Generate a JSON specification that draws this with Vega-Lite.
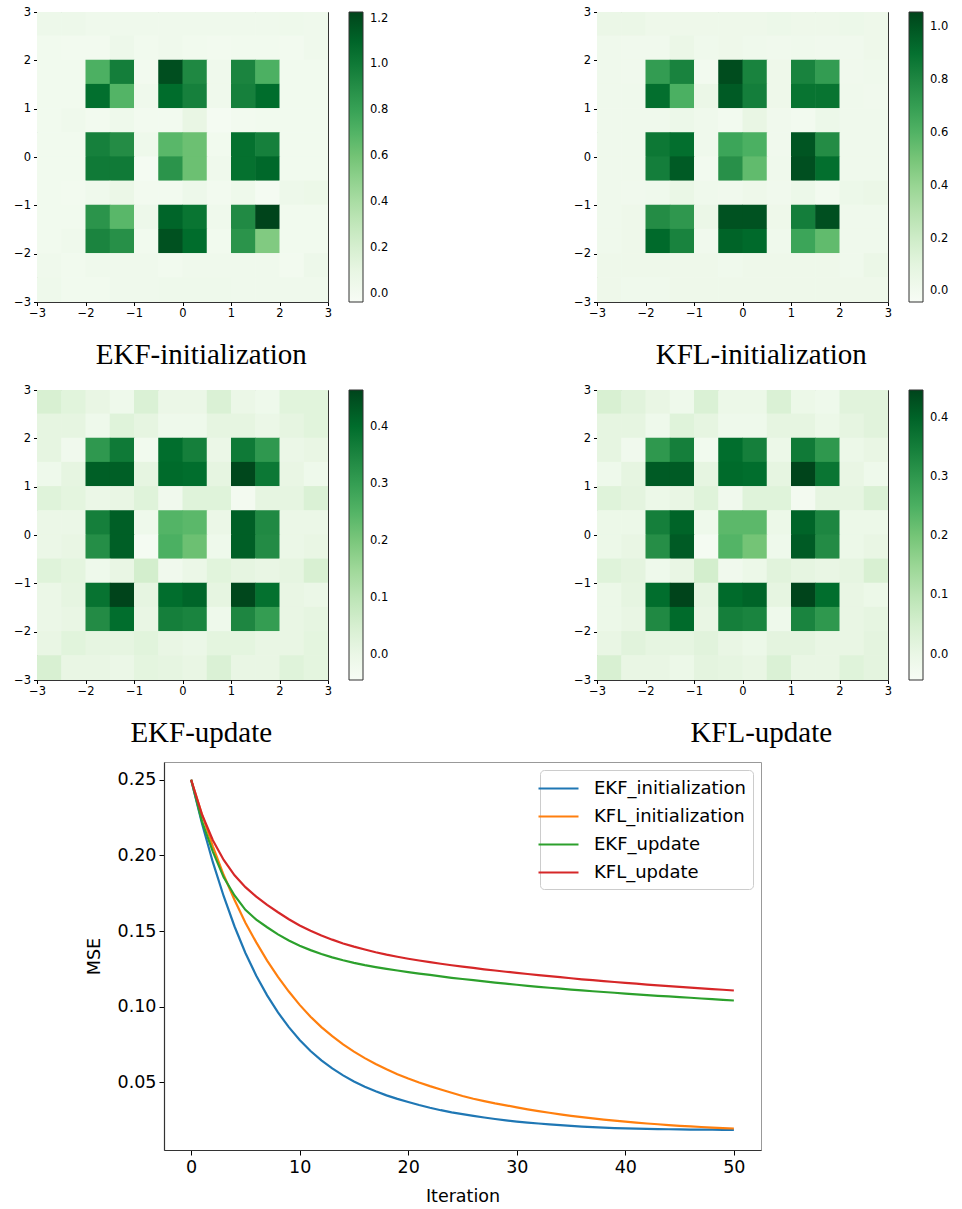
{
  "$schema": "https://vega.github.io/schema/vega-lite/v6.json",
  "background": "white",
  "padding": {"left": 13, "top": 5, "right": 4, "bottom": 4},
  "config": {
    "font": "DejaVu Sans",
    "view": {"stroke": "#333", "strokeWidth": 1},
    "axis": {"grid": false, "domain": false, "tickColor": "#000", "labelColor": "#000", "titleColor": "#000", "labelFont": "DejaVu Sans", "titleFont": "DejaVu Sans", "titleFontWeight": "normal"},
    "legend": {"labelFont": "DejaVu Sans", "labelColor": "#000"}
  },
  "datasets": {
    "cells": [
      {"x":-3,"x2":-2.5,"y":2.5,"y2":3,"a":0.05,"b":0.05,"c":0.048,"d":0.045},{"x":-2.5,"x2":-2,"y":2.5,"y2":3,"a":0.05,"b":0.05,"c":0.028,"d":0.026},{"x":-2,"x2":-1.5,"y":2.5,"y2":3,"a":0.03,"b":0.03,"c":0.008,"d":0.006},{"x":-1.5,"x2":-1,"y":2.5,"y2":3,"a":0.03,"b":0.03,"c":-0.013,"d":-0.014},{"x":-1,"x2":-0.5,"y":2.5,"y2":3,"a":0.03,"b":0.03,"c":0.043,"d":0.04},{"x":-0.5,"x2":0,"y":2.5,"y2":3,"a":0.03,"b":0.03,"c":-0.002,"d":-0.004},{"x":0,"x2":0.5,"y":2.5,"y2":3,"a":0.03,"b":0.03,"c":-0.002,"d":-0.004},{"x":0.5,"x2":1,"y":2.5,"y2":3,"a":0.03,"b":0.04,"c":0.043,"d":0.04},{"x":1,"x2":1.5,"y":2.5,"y2":3,"a":0.03,"b":0.03,"c":-0.002,"d":-0.004},{"x":1.5,"x2":2,"y":2.5,"y2":3,"a":0.03,"b":0.03,"c":-0.013,"d":-0.014},{"x":2,"x2":2.5,"y":2.5,"y2":3,"a":0.04,"b":0.04,"c":0.028,"d":0.026},{"x":2.5,"x2":3,"y":2.5,"y2":3,"a":0.03,"b":0.03,"c":0.028,"d":0.026},
      {"x":-3,"x2":-2.5,"y":2,"y2":2.5,"a":0.02,"b":0.02,"c":0.018,"d":0.016},{"x":-2.5,"x2":-2,"y":2,"y2":2.5,"a":0.01,"b":0.01,"c":0.018,"d":0.016},{"x":-2,"x2":-1.5,"y":2,"y2":2.5,"a":0.01,"b":0.01,"c":-0.013,"d":-0.014},{"x":-1.5,"x2":-1,"y":2,"y2":2.5,"a":0.05,"b":0.05,"c":0.033,"d":0.03},{"x":-1,"x2":-0.5,"y":2,"y2":2.5,"a":0.02,"b":0.02,"c":0.018,"d":0.016},{"x":-0.5,"x2":0,"y":2,"y2":2.5,"a":0.03,"b":0.03,"c":-0.013,"d":-0.014},{"x":0,"x2":0.5,"y":2,"y2":2.5,"a":0.02,"b":0.02,"c":-0.013,"d":-0.014},{"x":0.5,"x2":1,"y":2,"y2":2.5,"a":0.01,"b":0.01,"c":0.018,"d":0.016},{"x":1,"x2":1.5,"y":2,"y2":2.5,"a":0.02,"b":0.02,"c":0.018,"d":0.016},{"x":1.5,"x2":2,"y":2,"y2":2.5,"a":0.02,"b":0.01,"c":-0.002,"d":-0.004},{"x":2,"x2":2.5,"y":2,"y2":2.5,"a":0.01,"b":0.01,"c":0.018,"d":0.016},{"x":2.5,"x2":3,"y":2,"y2":2.5,"a":0.03,"b":0.03,"c":0.028,"d":0.026},
      {"x":-3,"x2":-2.5,"y":1.5,"y2":2,"a":0.02,"b":0.02,"c":0.018,"d":0.016},{"x":-2.5,"x2":-2,"y":1.5,"y2":2,"a":0.02,"b":0.01,"c":-0.018,"d":-0.019},{"x":-2,"x2":-1.5,"y":1.5,"y2":2,"a":0.72,"b":0.71,"c":0.312,"d":0.3},{"x":-1.5,"x2":-1,"y":1.5,"y2":2,"a":0.98,"b":0.82,"c":0.373,"d":0.349},{"x":-1,"x2":-0.5,"y":1.5,"y2":2,"a":0.01,"b":0.0,"c":-0.023,"d":-0.024},{"x":-0.5,"x2":0,"y":1.5,"y2":2,"a":1.19,"b":1.03,"c":0.398,"d":0.383},{"x":0,"x2":0.5,"y":1.5,"y2":2,"a":0.93,"b":0.82,"c":0.363,"d":0.349},{"x":0.5,"x2":1,"y":1.5,"y2":2,"a":0.03,"b":0.03,"c":-0.002,"d":-0.004},{"x":1,"x2":1.5,"y":1.5,"y2":2,"a":0.95,"b":0.82,"c":0.373,"d":0.358},{"x":1.5,"x2":2,"y":1.5,"y2":2,"a":0.72,"b":0.71,"c":0.312,"d":0.3},{"x":2,"x2":2.5,"y":1.5,"y2":2,"a":0.02,"b":0.01,"c":-0.002,"d":-0.004},{"x":2.5,"x2":3,"y":1.5,"y2":2,"a":0.02,"b":0.02,"c":0.008,"d":0.006},
      {"x":-3,"x2":-2.5,"y":1,"y2":1.5,"a":0.02,"b":0.02,"c":-0.013,"d":-0.014},{"x":-2.5,"x2":-2,"y":1,"y2":1.5,"a":0.02,"b":0.02,"c":0.018,"d":0.016},{"x":-2,"x2":-1.5,"y":1,"y2":1.5,"a":1.06,"b":0.91,"c":0.423,"d":0.412},{"x":-1.5,"x2":-1,"y":1,"y2":1.5,"a":0.7,"b":0.62,"c":0.423,"d":0.412},{"x":-1,"x2":-0.5,"y":1,"y2":1.5,"a":0.03,"b":0.05,"c":0.018,"d":0.016},{"x":-0.5,"x2":0,"y":1,"y2":1.5,"a":1.07,"b":0.98,"c":0.403,"d":0.388},{"x":0,"x2":0.5,"y":1,"y2":1.5,"a":0.97,"b":0.84,"c":0.398,"d":0.383},{"x":0.5,"x2":1,"y":1,"y2":1.5,"a":0.03,"b":0.03,"c":0.018,"d":0.016},{"x":1,"x2":1.5,"y":1,"y2":1.5,"a":0.97,"b":0.89,"c":0.459,"d":0.4465},{"x":1.5,"x2":2,"y":1,"y2":1.5,"a":1.07,"b":0.89,"c":0.378,"d":0.368},{"x":2,"x2":2.5,"y":1,"y2":1.5,"a":0.02,"b":0.02,"c":0.008,"d":0.006},{"x":2.5,"x2":3,"y":1,"y2":1.5,"a":0.02,"b":0.01,"c":-0.013,"d":-0.014},
      {"x":-3,"x2":-2.5,"y":0.5,"y2":1,"a":0.02,"b":0.02,"c":0.033,"d":0.03},{"x":-2.5,"x2":-2,"y":0.5,"y2":1,"a":0.03,"b":0.02,"c":0.023,"d":0.021},{"x":-2,"x2":-1.5,"y":0.5,"y2":1,"a":0.01,"b":0.02,"c":-0.002,"d":-0.004},{"x":-1.5,"x2":-1,"y":0.5,"y2":1,"a":0.04,"b":0.04,"c":0.008,"d":0.006},{"x":-1,"x2":-0.5,"y":0.5,"y2":1,"a":0.01,"b":0.02,"c":0.033,"d":0.03},{"x":-0.5,"x2":0,"y":0.5,"y2":1,"a":0.01,"b":0.0,"c":-0.018,"d":-0.019},{"x":0,"x2":0.5,"y":0.5,"y2":1,"a":0.09,"b":0.07,"c":0.033,"d":0.03},{"x":0.5,"x2":1,"y":0.5,"y2":1,"a":-0.01,"b":0.01,"c":0.033,"d":0.03},{"x":1,"x2":1.5,"y":0.5,"y2":1,"a":0.01,"b":0.0,"c":-0.028,"d":-0.028},{"x":1.5,"x2":2,"y":0.5,"y2":1,"a":0.02,"b":0.04,"c":0.018,"d":0.016},{"x":2,"x2":2.5,"y":0.5,"y2":1,"a":0.02,"b":0.02,"c":0.018,"d":0.016},{"x":2.5,"x2":3,"y":0.5,"y2":1,"a":0.02,"b":0.02,"c":0.043,"d":0.04},
      {"x":-3,"x2":-2.5,"y":0,"y2":0.5,"a":0.02,"b":0.02,"c":-0.002,"d":-0.004},{"x":-2.5,"x2":-2,"y":0,"y2":0.5,"a":0.02,"b":0.02,"c":-0.002,"d":-0.004},{"x":-2,"x2":-1.5,"y":0,"y2":0.5,"a":0.97,"b":0.87,"c":0.363,"d":0.349},{"x":-1.5,"x2":-1,"y":0,"y2":0.5,"a":0.91,"b":0.91,"c":0.423,"d":0.398},{"x":-1,"x2":-0.5,"y":0,"y2":0.5,"a":0.04,"b":0.02,"c":-0.013,"d":-0.014},{"x":-0.5,"x2":0,"y":0,"y2":0.5,"a":0.68,"b":0.67,"c":0.251,"d":0.231},{"x":0,"x2":0.5,"y":0,"y2":0.5,"a":0.62,"b":0.62,"c":0.241,"d":0.231},{"x":0.5,"x2":1,"y":0,"y2":0.5,"a":0.02,"b":0.01,"c":-0.002,"d":-0.004},{"x":1,"x2":1.5,"y":0,"y2":0.5,"a":1.05,"b":1.0,"c":0.423,"d":0.398},{"x":1.5,"x2":2,"y":0,"y2":0.5,"a":0.97,"b":0.78,"c":0.342,"d":0.334},{"x":2,"x2":2.5,"y":0,"y2":0.5,"a":0.02,"b":0.02,"c":-0.002,"d":-0.004},{"x":2.5,"x2":3,"y":0,"y2":0.5,"a":0.02,"b":0.02,"c":-0.002,"d":-0.004},
      {"x":-3,"x2":-2.5,"y":-0.5,"y2":0,"a":0.02,"b":0.02,"c":-0.002,"d":-0.004},{"x":-2.5,"x2":-2,"y":-0.5,"y2":0,"a":0.02,"b":0.02,"c":0.008,"d":0.006},{"x":-2,"x2":-1.5,"y":-0.5,"y2":0,"a":1.0,"b":0.84,"c":0.332,"d":0.319},{"x":-1.5,"x2":-1,"y":-0.5,"y2":0,"a":1.0,"b":0.98,"c":0.423,"d":0.412},{"x":-1,"x2":-0.5,"y":-0.5,"y2":0,"a":-0.01,"b":0.0,"c":-0.033,"d":-0.033},{"x":-0.5,"x2":0,"y":-0.5,"y2":0,"a":0.87,"b":0.76,"c":0.261,"d":0.241},{"x":0,"x2":0.5,"y":-0.5,"y2":0,"a":0.62,"b":0.56,"c":0.221,"d":0.202},{"x":0.5,"x2":1,"y":-0.5,"y2":0,"a":0.03,"b":0.02,"c":-0.013,"d":-0.014},{"x":1,"x2":1.5,"y":-0.5,"y2":0,"a":1.05,"b":1.02,"c":0.423,"d":0.412},{"x":1.5,"x2":2,"y":-0.5,"y2":0,"a":1.09,"b":0.91,"c":0.337,"d":0.324},{"x":2,"x2":2.5,"y":-0.5,"y2":0,"a":0.02,"b":0.02,"c":-0.002,"d":-0.004},{"x":2.5,"x2":3,"y":-0.5,"y2":0,"a":0.02,"b":0.02,"c":0.008,"d":0.006},
      {"x":-3,"x2":-2.5,"y":-1,"y2":-0.5,"a":0.02,"b":0.02,"c":0.033,"d":0.03},{"x":-2.5,"x2":-2,"y":-1,"y2":-0.5,"a":0.01,"b":0.01,"c":0.023,"d":0.021},{"x":-2,"x2":-1.5,"y":-1,"y2":-0.5,"a":0.03,"b":0.02,"c":-0.013,"d":-0.014},{"x":-1.5,"x2":-1,"y":-1,"y2":-0.5,"a":0.07,"b":0.06,"c":0.008,"d":0.006},{"x":-1,"x2":-0.5,"y":-1,"y2":-0.5,"a":0.01,"b":0.02,"c":0.058,"d":0.055},{"x":-0.5,"x2":0,"y":-1,"y2":-0.5,"a":0.01,"b":0.01,"c":-0.018,"d":-0.019},{"x":0,"x2":0.5,"y":-1,"y2":-0.5,"a":0.05,"b":0.03,"c":-0.002,"d":-0.004},{"x":0.5,"x2":1,"y":-1,"y2":-0.5,"a":0.01,"b":0.01,"c":0.028,"d":0.026},{"x":1,"x2":1.5,"y":-1,"y2":-0.5,"a":0.04,"b":0.04,"c":0.018,"d":0.016},{"x":1.5,"x2":2,"y":-1,"y2":-0.5,"a":-0.01,"b":0.0,"c":0.008,"d":0.006},{"x":2,"x2":2.5,"y":-1,"y2":-0.5,"a":0.05,"b":0.04,"c":0.018,"d":0.016},{"x":2.5,"x2":3,"y":-1,"y2":-0.5,"a":0.06,"b":0.05,"c":0.048,"d":0.045},
      {"x":-3,"x2":-2.5,"y":-1.5,"y2":-1,"a":0.02,"b":0.02,"c":-0.002,"d":-0.004},{"x":-2.5,"x2":-2,"y":-1.5,"y2":-1,"a":0.02,"b":0.03,"c":0.018,"d":0.016},{"x":-2,"x2":-1.5,"y":-1.5,"y2":-1,"a":0.87,"b":0.78,"c":0.388,"d":0.383},{"x":-1.5,"x2":-1,"y":-1.5,"y2":-1,"a":0.68,"b":0.73,"c":0.464,"d":0.4465},{"x":-1,"x2":-0.5,"y":-1.5,"y2":-1,"a":0.05,"b":0.05,"c":0.018,"d":0.016},{"x":-0.5,"x2":0,"y":-1.5,"y2":-1,"a":1.1,"b":1.01,"c":0.398,"d":0.388},{"x":0,"x2":0.5,"y":-1.5,"y2":-1,"a":1.03,"b":1.01,"c":0.413,"d":0.398},{"x":0.5,"x2":1,"y":-1.5,"y2":-1,"a":0.03,"b":0.03,"c":0.018,"d":0.016},{"x":1,"x2":1.5,"y":-1.5,"y2":-1,"a":0.92,"b":0.84,"c":0.459,"d":0.4465},{"x":1.5,"x2":2,"y":-1.5,"y2":-1,"a":1.23,"b":1.02,"c":0.393,"d":0.383},{"x":2,"x2":2.5,"y":-1.5,"y2":-1,"a":0.02,"b":0.02,"c":0.008,"d":0.006},{"x":2.5,"x2":3,"y":-1.5,"y2":-1,"a":0.02,"b":0.02,"c":-0.002,"d":-0.004},
      {"x":-3,"x2":-2.5,"y":-2,"y2":-1.5,"a":0.02,"b":0.02,"c":-0.002,"d":-0.004},{"x":-2.5,"x2":-2,"y":-2,"y2":-1.5,"a":0.03,"b":0.03,"c":0.008,"d":0.006},{"x":-2,"x2":-1.5,"y":-2,"y2":-1.5,"a":0.95,"b":0.93,"c":0.337,"d":0.329},{"x":-1.5,"x2":-1,"y":-2,"y2":-1.5,"a":0.89,"b":0.82,"c":0.398,"d":0.388},{"x":-1,"x2":-0.5,"y":-2,"y2":-1.5,"a":0.02,"b":0.01,"c":0.008,"d":0.006},{"x":-0.5,"x2":0,"y":-2,"y2":-1.5,"a":1.18,"b":0.95,"c":0.363,"d":0.349},{"x":0,"x2":0.5,"y":-2,"y2":-1.5,"a":1.07,"b":0.93,"c":0.353,"d":0.339},{"x":0.5,"x2":1,"y":-2,"y2":-1.5,"a":0.02,"b":0.02,"c":-0.013,"d":-0.014},{"x":1,"x2":1.5,"y":-2,"y2":-1.5,"a":0.87,"b":0.67,"c":0.347,"d":0.339},{"x":1.5,"x2":2,"y":-2,"y2":-1.5,"a":0.55,"b":0.56,"c":0.302,"d":0.3},{"x":2,"x2":2.5,"y":-2,"y2":-1.5,"a":0.02,"b":0.02,"c":0.008,"d":0.006},{"x":2.5,"x2":3,"y":-2,"y2":-1.5,"a":0.02,"b":0.02,"c":0.018,"d":0.016},
      {"x":-3,"x2":-2.5,"y":-2.5,"y2":-2,"a":0.03,"b":0.03,"c":0.008,"d":0.006},{"x":-2.5,"x2":-2,"y":-2.5,"y2":-2,"a":0.02,"b":0.03,"c":0.028,"d":0.026},{"x":-2,"x2":-1.5,"y":-2.5,"y2":-2,"a":0.03,"b":0.03,"c":0.018,"d":0.016},{"x":-1.5,"x2":-1,"y":-2.5,"y2":-2,"a":0.03,"b":0.03,"c":0.018,"d":0.016},{"x":-1,"x2":-0.5,"y":-2.5,"y2":-2,"a":0.03,"b":0.03,"c":0.028,"d":0.026},{"x":-0.5,"x2":0,"y":-2.5,"y2":-2,"a":0.02,"b":0.02,"c":0.008,"d":0.006},{"x":0,"x2":0.5,"y":-2.5,"y2":-2,"a":0.03,"b":0.03,"c":-0.002,"d":-0.004},{"x":0.5,"x2":1,"y":-2.5,"y2":-2,"a":0.03,"b":0.03,"c":0.023,"d":0.021},{"x":1,"x2":1.5,"y":-2.5,"y2":-2,"a":0.03,"b":0.03,"c":0.023,"d":0.021},{"x":1.5,"x2":2,"y":-2.5,"y2":-2,"a":0.03,"b":0.03,"c":0.008,"d":0.006},{"x":2,"x2":2.5,"y":-2.5,"y2":-2,"a":0.01,"b":0.02,"c":0.008,"d":0.006},{"x":2.5,"x2":3,"y":-2.5,"y2":-2,"a":0.05,"b":0.05,"c":0.023,"d":0.021},
      {"x":-3,"x2":-2.5,"y":-3,"y2":-2.5,"a":0.04,"b":0.03,"c":0.048,"d":0.045},{"x":-2.5,"x2":-2,"y":-3,"y2":-2.5,"a":0.02,"b":0.02,"c":0.008,"d":0.006},{"x":-2,"x2":-1.5,"y":-3,"y2":-2.5,"a":0.02,"b":0.02,"c":0.008,"d":0.006},{"x":-1.5,"x2":-1,"y":-3,"y2":-2.5,"a":0.03,"b":0.03,"c":-0.002,"d":-0.004},{"x":-1,"x2":-0.5,"y":-3,"y2":-2.5,"a":0.03,"b":0.03,"c":0.023,"d":0.021},{"x":-0.5,"x2":0,"y":-3,"y2":-2.5,"a":0.04,"b":0.03,"c":0.018,"d":0.016},{"x":0,"x2":0.5,"y":-3,"y2":-2.5,"a":0.04,"b":0.03,"c":0.008,"d":0.006},{"x":0.5,"x2":1,"y":-3,"y2":-2.5,"a":0.04,"b":0.03,"c":0.043,"d":0.04},{"x":1,"x2":1.5,"y":-3,"y2":-2.5,"a":0.03,"b":0.03,"c":0.008,"d":0.006},{"x":1.5,"x2":2,"y":-3,"y2":-2.5,"a":0.03,"b":0.03,"c":0.008,"d":0.006},{"x":2,"x2":2.5,"y":-3,"y2":-2.5,"a":0.03,"b":0.03,"c":0.033,"d":0.03},{"x":2.5,"x2":3,"y":-3,"y2":-2.5,"a":0.03,"b":0.03,"c":0.023,"d":0.021}
    ],
    "mse": [
      {"iter":0,"EKF_initialization":0.25,"KFL_initialization":0.25,"EKF_update":0.25,"KFL_update":0.25},
      {"iter":1,"EKF_initialization":0.221,"KFL_initialization":0.227,"EKF_update":0.2225,"KFL_update":0.227},
      {"iter":2,"EKF_initialization":0.1955,"KFL_initialization":0.206,"EKF_update":0.2025,"KFL_update":0.21},
      {"iter":3,"EKF_initialization":0.173,"KFL_initialization":0.187,"EKF_update":0.1855,"KFL_update":0.197},
      {"iter":4,"EKF_initialization":0.153,"KFL_initialization":0.1705,"EKF_update":0.1735,"KFL_update":0.1868},
      {"iter":5,"EKF_initialization":0.1355,"KFL_initialization":0.1555,"EKF_update":0.164,"KFL_update":0.179},
      {"iter":6,"EKF_initialization":0.1205,"KFL_initialization":0.1425,"EKF_update":0.1575,"KFL_update":0.1727},
      {"iter":7,"EKF_initialization":0.1075,"KFL_initialization":0.1305,"EKF_update":0.1525,"KFL_update":0.1673},
      {"iter":8,"EKF_initialization":0.0962,"KFL_initialization":0.1197,"EKF_update":0.1478,"KFL_update":0.1624},
      {"iter":9,"EKF_initialization":0.0865,"KFL_initialization":0.11,"EKF_update":0.1437,"KFL_update":0.1578},
      {"iter":10,"EKF_initialization":0.078,"KFL_initialization":0.1012,"EKF_update":0.1403,"KFL_update":0.1537},
      {"iter":11,"EKF_initialization":0.0707,"KFL_initialization":0.0934,"EKF_update":0.1374,"KFL_update":0.1502},
      {"iter":12,"EKF_initialization":0.0645,"KFL_initialization":0.0865,"EKF_update":0.1348,"KFL_update":0.147},
      {"iter":13,"EKF_initialization":0.0592,"KFL_initialization":0.0805,"EKF_update":0.1326,"KFL_update":0.1443},
      {"iter":14,"EKF_initialization":0.0546,"KFL_initialization":0.0751,"EKF_update":0.1307,"KFL_update":0.1418},
      {"iter":15,"EKF_initialization":0.0506,"KFL_initialization":0.0703,"EKF_update":0.129,"KFL_update":0.1397},
      {"iter":16,"EKF_initialization":0.0471,"KFL_initialization":0.066,"EKF_update":0.1275,"KFL_update":0.1378},
      {"iter":17,"EKF_initialization":0.0441,"KFL_initialization":0.0621,"EKF_update":0.1262,"KFL_update":0.136},
      {"iter":18,"EKF_initialization":0.0414,"KFL_initialization":0.0586,"EKF_update":0.125,"KFL_update":0.1344},
      {"iter":19,"EKF_initialization":0.0391,"KFL_initialization":0.0554,"EKF_update":0.1239,"KFL_update":0.133},
      {"iter":20,"EKF_initialization":0.037,"KFL_initialization":0.0525,"EKF_update":0.1229,"KFL_update":0.1317},
      {"iter":21,"EKF_initialization":0.035,"KFL_initialization":0.0499,"EKF_update":0.1219,"KFL_update":0.1305},
      {"iter":22,"EKF_initialization":0.0332,"KFL_initialization":0.0475,"EKF_update":0.121,"KFL_update":0.1294},
      {"iter":23,"EKF_initialization":0.0316,"KFL_initialization":0.0453,"EKF_update":0.12,"KFL_update":0.1284},
      {"iter":24,"EKF_initialization":0.0302,"KFL_initialization":0.0431,"EKF_update":0.1191,"KFL_update":0.1274},
      {"iter":25,"EKF_initialization":0.029,"KFL_initialization":0.041,"EKF_update":0.1183,"KFL_update":0.1265},
      {"iter":26,"EKF_initialization":0.0279,"KFL_initialization":0.0392,"EKF_update":0.1175,"KFL_update":0.1256},
      {"iter":27,"EKF_initialization":0.0268,"KFL_initialization":0.0376,"EKF_update":0.1167,"KFL_update":0.1247},
      {"iter":28,"EKF_initialization":0.0258,"KFL_initialization":0.0361,"EKF_update":0.1159,"KFL_update":0.1239},
      {"iter":29,"EKF_initialization":0.0249,"KFL_initialization":0.0348,"EKF_update":0.1152,"KFL_update":0.1231},
      {"iter":30,"EKF_initialization":0.0241,"KFL_initialization":0.0335,"EKF_update":0.1145,"KFL_update":0.1224},
      {"iter":31,"EKF_initialization":0.0234,"KFL_initialization":0.0322,"EKF_update":0.1138,"KFL_update":0.1216},
      {"iter":32,"EKF_initialization":0.0228,"KFL_initialization":0.031,"EKF_update":0.1131,"KFL_update":0.1209},
      {"iter":33,"EKF_initialization":0.0222,"KFL_initialization":0.0299,"EKF_update":0.1125,"KFL_update":0.1202},
      {"iter":34,"EKF_initialization":0.0217,"KFL_initialization":0.0289,"EKF_update":0.1119,"KFL_update":0.1195},
      {"iter":35,"EKF_initialization":0.0212,"KFL_initialization":0.0279,"EKF_update":0.1113,"KFL_update":0.1188},
      {"iter":36,"EKF_initialization":0.0208,"KFL_initialization":0.027,"EKF_update":0.1108,"KFL_update":0.1181},
      {"iter":37,"EKF_initialization":0.0204,"KFL_initialization":0.0262,"EKF_update":0.1102,"KFL_update":0.1175},
      {"iter":38,"EKF_initialization":0.0201,"KFL_initialization":0.0254,"EKF_update":0.1097,"KFL_update":0.1169},
      {"iter":39,"EKF_initialization":0.0198,"KFL_initialization":0.0247,"EKF_update":0.1092,"KFL_update":0.1163},
      {"iter":40,"EKF_initialization":0.0196,"KFL_initialization":0.024,"EKF_update":0.1087,"KFL_update":0.1157},
      {"iter":41,"EKF_initialization":0.0194,"KFL_initialization":0.0234,"EKF_update":0.1082,"KFL_update":0.1152},
      {"iter":42,"EKF_initialization":0.0192,"KFL_initialization":0.0228,"EKF_update":0.1077,"KFL_update":0.1146},
      {"iter":43,"EKF_initialization":0.0191,"KFL_initialization":0.0223,"EKF_update":0.1072,"KFL_update":0.1141},
      {"iter":44,"EKF_initialization":0.019,"KFL_initialization":0.0218,"EKF_update":0.1068,"KFL_update":0.1136},
      {"iter":45,"EKF_initialization":0.0189,"KFL_initialization":0.0213,"EKF_update":0.1063,"KFL_update":0.1131},
      {"iter":46,"EKF_initialization":0.0188,"KFL_initialization":0.0209,"EKF_update":0.1059,"KFL_update":0.1126},
      {"iter":47,"EKF_initialization":0.0187,"KFL_initialization":0.0205,"EKF_update":0.1054,"KFL_update":0.1121},
      {"iter":48,"EKF_initialization":0.0187,"KFL_initialization":0.0201,"EKF_update":0.105,"KFL_update":0.1116},
      {"iter":49,"EKF_initialization":0.0186,"KFL_initialization":0.0198,"EKF_update":0.1045,"KFL_update":0.1112},
      {"iter":50,"EKF_initialization":0.0186,"KFL_initialization":0.0195,"EKF_update":0.1041,"KFL_update":0.1107}
    ]
  },
  "resolve": {"scale": {"color": "independent"}, "legend": {"color": "independent"}},
  "spacing": 12,
  "vconcat": [
    {
      "spacing": 183,
      "resolve": {"scale": {"color": "independent"}, "legend": {"color": "independent"}},
      "hconcat": [
        {
          "data": {"name": "cells"},
          "width": 291, "height": 290,
          "title": {"text": "EKF-initialization", "orient": "bottom", "frame": "bounds", "anchor": "middle", "font": "Liberation Serif", "fontSize": 29, "fontWeight": "normal", "color": "#000", "offset": 22},
          "mark": {"type": "rect", "x2Offset": 0.6, "y2Offset": -0.6, "clip": true},
          "encoding": {
            "x": {"field": "x", "type": "quantitative", "scale": {"domain": [-3, 3], "nice": false, "zero": false}, "axis": {"title": null, "values": [-3, -2, -1, 0, 1, 2, 3], "format": "d", "labelFontSize": 11.5, "tickSize": 3.5, "labelPadding": 2, "labelFlush": false}},
            "x2": {"field": "x2"},
            "y": {"field": "y", "type": "quantitative", "scale": {"domain": [-3, 3], "nice": false, "zero": false}, "axis": {"title": null, "values": [-3, -2, -1, 0, 1, 2, 3], "format": "d", "labelFontSize": 11.5, "tickSize": 3.5, "labelPadding": 3, "labelFlush": false}},
            "y2": {"field": "y2"},
            "color": {"field": "a", "type": "quantitative", "scale": {"domain": [-0.036, 0.122125, 0.28025, 0.438375, 0.5965, 0.754625, 0.91275, 1.070875, 1.229], "range": ["#f7fcf5", "#e5f5e0", "#c7e9c0", "#a1d99b", "#74c476", "#41ab5d", "#238b45", "#006d2c", "#00441b"], "interpolate": "rgb", "nice": false, "zero": false}, "legend": {"type": "gradient", "title": null, "orient": "right", "offset": 21, "padding": 0, "direction": "vertical", "gradientLength": 290, "gradientThickness": 14, "gradientStrokeColor": "#333", "gradientStrokeWidth": 1, "values": [0, 0.2, 0.4, 0.6, 0.8, 1.0, 1.2], "format": ".1f", "labelFontSize": 11.5, "labelOffset": 7, "labelOverlap": false}}
          }
        },
        {
          "data": {"name": "cells"},
          "width": 291, "height": 290,
          "title": {"text": "KFL-initialization", "orient": "bottom", "frame": "bounds", "anchor": "middle", "font": "Liberation Serif", "fontSize": 29, "fontWeight": "normal", "color": "#000", "offset": 22},
          "mark": {"type": "rect", "x2Offset": 0.6, "y2Offset": -0.6, "clip": true},
          "encoding": {
            "x": {"field": "x", "type": "quantitative", "scale": {"domain": [-3, 3], "nice": false, "zero": false}, "axis": {"title": null, "values": [-3, -2, -1, 0, 1, 2, 3], "format": "d", "labelFontSize": 11.5, "tickSize": 3.5, "labelPadding": 2, "labelFlush": false}},
            "x2": {"field": "x2"},
            "y": {"field": "y", "type": "quantitative", "scale": {"domain": [-3, 3], "nice": false, "zero": false}, "axis": {"title": null, "values": [-3, -2, -1, 0, 1, 2, 3], "format": "d", "labelFontSize": 11.5, "tickSize": 3.5, "labelPadding": 3, "labelFlush": false}},
            "y2": {"field": "y2"},
            "color": {"field": "b", "type": "quantitative", "scale": {"domain": [-0.04, 0.097125, 0.23425, 0.371375, 0.5085, 0.645625, 0.78275, 0.919875, 1.057], "range": ["#f7fcf5", "#e5f5e0", "#c7e9c0", "#a1d99b", "#74c476", "#41ab5d", "#238b45", "#006d2c", "#00441b"], "interpolate": "rgb", "nice": false, "zero": false}, "legend": {"type": "gradient", "title": null, "orient": "right", "offset": 21, "padding": 0, "direction": "vertical", "gradientLength": 290, "gradientThickness": 14, "gradientStrokeColor": "#333", "gradientStrokeWidth": 1, "values": [0, 0.2, 0.4, 0.6, 0.8, 1.0], "format": ".1f", "labelFontSize": 11.5, "labelOffset": 7, "labelOverlap": false}}
          }
        }
      ]
    },
    {
      "spacing": 183,
      "resolve": {"scale": {"color": "independent"}, "legend": {"color": "independent"}},
      "hconcat": [
        {
          "data": {"name": "cells"},
          "width": 291, "height": 290,
          "title": {"text": "EKF-update", "orient": "bottom", "frame": "bounds", "anchor": "middle", "font": "Liberation Serif", "fontSize": 29, "fontWeight": "normal", "color": "#000", "offset": 22},
          "mark": {"type": "rect", "x2Offset": 0.6, "y2Offset": -0.6, "clip": true},
          "encoding": {
            "x": {"field": "x", "type": "quantitative", "scale": {"domain": [-3, 3], "nice": false, "zero": false}, "axis": {"title": null, "values": [-3, -2, -1, 0, 1, 2, 3], "format": "d", "labelFontSize": 11.5, "tickSize": 3.5, "labelPadding": 2, "labelFlush": false}},
            "x2": {"field": "x2"},
            "y": {"field": "y", "type": "quantitative", "scale": {"domain": [-3, 3], "nice": false, "zero": false}, "axis": {"title": null, "values": [-3, -2, -1, 0, 1, 2, 3], "format": "d", "labelFontSize": 11.5, "tickSize": 3.5, "labelPadding": 3, "labelFlush": false}},
            "y2": {"field": "y2"},
            "color": {"field": "c", "type": "quantitative", "scale": {"domain": [-0.043, 0.020375, 0.08375, 0.147125, 0.2105, 0.273875, 0.33725, 0.400625, 0.464], "range": ["#f7fcf5", "#e5f5e0", "#c7e9c0", "#a1d99b", "#74c476", "#41ab5d", "#238b45", "#006d2c", "#00441b"], "interpolate": "rgb", "nice": false, "zero": false}, "legend": {"type": "gradient", "title": null, "orient": "right", "offset": 21, "padding": 0, "direction": "vertical", "gradientLength": 290, "gradientThickness": 14, "gradientStrokeColor": "#333", "gradientStrokeWidth": 1, "values": [0, 0.1, 0.2, 0.3, 0.4], "format": ".1f", "labelFontSize": 11.5, "labelOffset": 7, "labelOverlap": false}}
          }
        },
        {
          "data": {"name": "cells"},
          "width": 291, "height": 290,
          "title": {"text": "KFL-update", "orient": "bottom", "frame": "bounds", "anchor": "middle", "font": "Liberation Serif", "fontSize": 29, "fontWeight": "normal", "color": "#000", "offset": 22},
          "mark": {"type": "rect", "x2Offset": 0.6, "y2Offset": -0.6, "clip": true},
          "encoding": {
            "x": {"field": "x", "type": "quantitative", "scale": {"domain": [-3, 3], "nice": false, "zero": false}, "axis": {"title": null, "values": [-3, -2, -1, 0, 1, 2, 3], "format": "d", "labelFontSize": 11.5, "tickSize": 3.5, "labelPadding": 2, "labelFlush": false}},
            "x2": {"field": "x2"},
            "y": {"field": "y", "type": "quantitative", "scale": {"domain": [-3, 3], "nice": false, "zero": false}, "axis": {"title": null, "values": [-3, -2, -1, 0, 1, 2, 3], "format": "d", "labelFontSize": 11.5, "tickSize": 3.5, "labelPadding": 3, "labelFlush": false}},
            "y2": {"field": "y2"},
            "color": {"field": "d", "type": "quantitative", "scale": {"domain": [-0.043, 0.0181875, 0.079375, 0.1405625, 0.20175, 0.2629375, 0.324125, 0.3853125, 0.4465], "range": ["#f7fcf5", "#e5f5e0", "#c7e9c0", "#a1d99b", "#74c476", "#41ab5d", "#238b45", "#006d2c", "#00441b"], "interpolate": "rgb", "nice": false, "zero": false}, "legend": {"type": "gradient", "title": null, "orient": "right", "offset": 21, "padding": 0, "direction": "vertical", "gradientLength": 290, "gradientThickness": 14, "gradientStrokeColor": "#333", "gradientStrokeWidth": 1, "values": [0, 0.1, 0.2, 0.3, 0.4], "format": ".1f", "labelFontSize": 11.5, "labelOffset": 7, "labelOverlap": false}}
          }
        }
      ]
    },
    {
      "spacing": 0,
      "resolve": {"scale": {"color": "independent"}, "legend": {"color": "independent"}},
      "hconcat": [
        {
          "width": 47, "height": 10,
          "view": {"stroke": null},
          "data": {"values": []},
          "mark": {"type": "point", "opacity": 0},
          "encoding": {}
        },
        {
          "data": {"name": "mse"},
          "transform": [{"fold": ["EKF_initialization", "KFL_initialization", "EKF_update", "KFL_update"], "as": ["series", "mse"]}],
          "width": 597, "height": 388,
          "view": {"stroke": "#999", "strokeWidth": 1},
          "mark": {"type": "line", "strokeWidth": 2.2},
          "encoding": {
            "x": {"field": "iter", "type": "quantitative", "scale": {"domain": [-2.5, 52.5], "nice": false, "zero": false}, "axis": {"title": "Iteration", "values": [0, 10, 20, 30, 40, 50], "format": "d", "domain": true, "domainColor": "#333", "domainWidth": 1.2, "labelFontSize": 17.5, "titleFontSize": 17.5, "tickSize": 5, "labelPadding": 3, "titlePadding": 12, "labelFlush": false}},
            "y": {"field": "mse", "type": "quantitative", "scale": {"domain": [0.0053, 0.2617], "nice": false, "zero": false}, "axis": {"title": "MSE", "values": [0.05, 0.1, 0.15, 0.2, 0.25], "format": ".2f", "domain": true, "domainColor": "#333", "domainWidth": 1.2, "labelFontSize": 17.5, "titleFontSize": 17.5, "tickSize": 5, "labelPadding": 3, "titlePadding": 14, "labelFlush": false}},
            "color": {"field": "series", "type": "nominal", "sort": null, "scale": {"domain": ["EKF_initialization", "KFL_initialization", "EKF_update", "KFL_update"], "range": ["#1f77b4", "#ff7f0e", "#2ca02c", "#d62728"]}, "legend": {"title": null, "orient": "top-right", "offset": 8, "padding": 7, "symbolType": "M-2,0H2", "symbolSize": 400, "symbolStrokeWidth": 2.2, "labelFontSize": 18, "labelOffset": 24, "rowPadding": 7, "fillColor": "rgba(255,255,255,0.8)", "strokeColor": "#cccccc", "cornerRadius": 4}}
          }
        }
      ]
    }
  ]
}
